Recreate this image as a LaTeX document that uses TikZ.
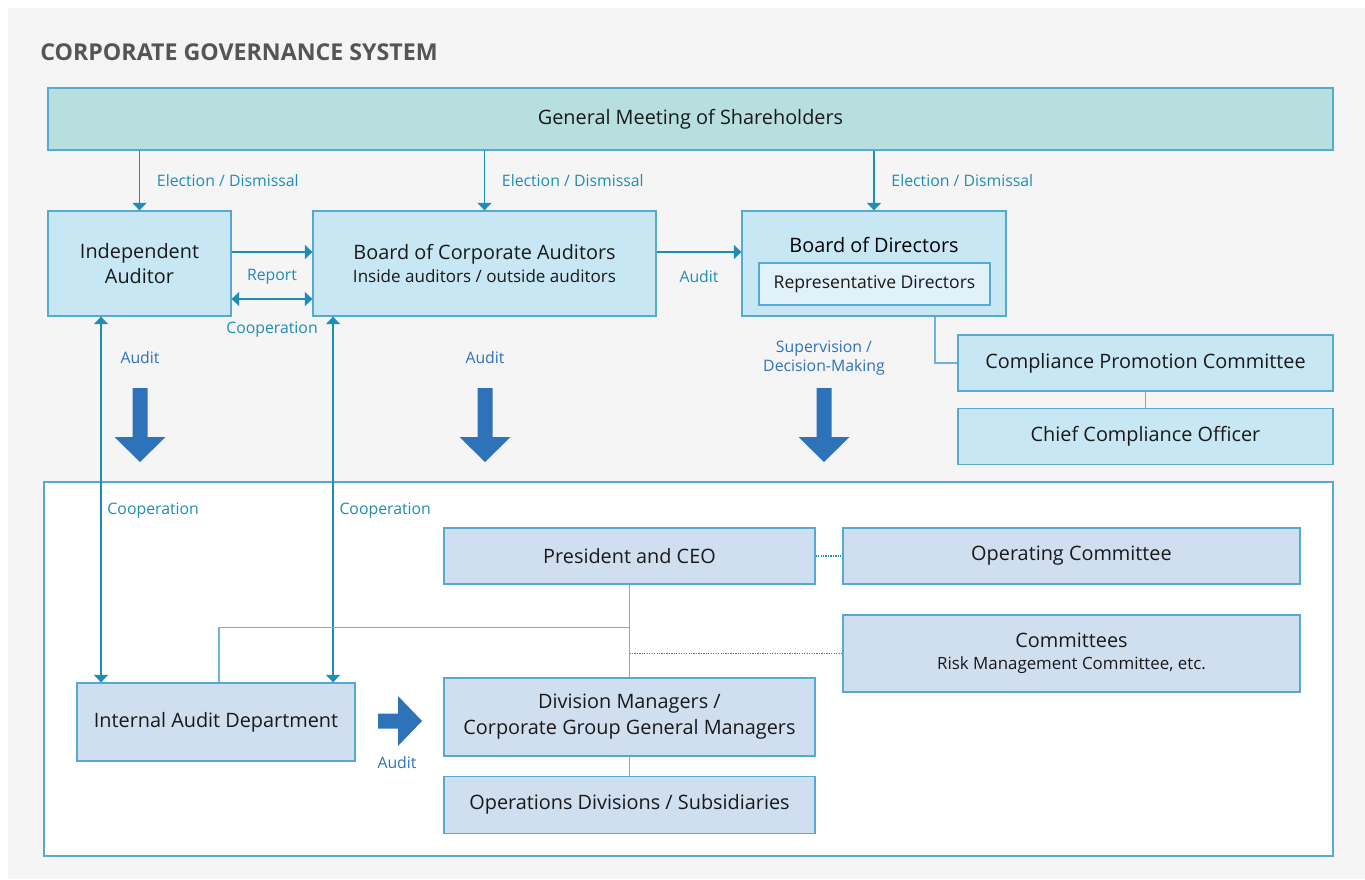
\documentclass[tikz,border=0pt]{standalone}
\usepackage{fontspec}
\setmainfont{Open Sans}
\usepackage{tikz}
\usetikzlibrary{arrows.meta, positioning}
\definecolor{PanelGrey}{HTML}{F5F5F5}
\definecolor{TitleGrey}{HTML}{555555}
\definecolor{EdgeBlue}{HTML}{56A9D1}
\definecolor{MeetingFill}{HTML}{B8DFDF}
\definecolor{BoardFill}{HTML}{C8E7F4}
\definecolor{RepFill}{HTML}{E0F1F9}
\definecolor{ExecFill}{HTML}{D0DFF0}
\definecolor{LinkTeal}{HTML}{1E8DB5}
\definecolor{TreeBlue}{HTML}{6DB5D6}
\definecolor{AuditBlue}{HTML}{2E72BA}

\begin{document}
\begin{tikzpicture}[
  x=0.02cm, y=-0.02cm,
  box/.style    = {draw=EdgeBlue, line width=0.75pt, inner sep=0pt, align=center,
                   font=\fontsize{11.3}{14.7}\selectfont, text=black!90},
  board/.style  = {box, fill=BoardFill, minimum height=2.1cm},
  exec/.style   = {box, fill=ExecFill},
  subline/.style= {font=\fontsize{9.7}{12}\selectfont},
  link/.style   = {-{Triangle[width=0.28cm,length=0.15cm]}, LinkTeal, line width=0.7pt},
  duplex/.style = {{Triangle[width=0.28cm,length=0.15cm]}-{Triangle[width=0.28cm,length=0.15cm]},
                   LinkTeal, line width=0.7pt},
  tree/.style   = {TreeBlue, line width=0.75pt},
  loose/.style  = {LinkTeal, line width=0.75pt, dash pattern=on 0.7pt off 0.7pt},
  lbl/.style    = {font=\fontsize{9}{11}\selectfont, text=LinkTeal},
  blbl/.style   = {lbl, text=AuditBlue, align=center},
  bigarrow/.style = {fill=AuditBlue}
]

  % Canvas and panel
  \useasboundingbox (0,0) rectangle (1365,879);
  \fill[white] (0,0) rectangle (1365,879);
  \fill[PanelGrey] (8,8) rectangle (1365,879);

  \node[anchor=base west, inner sep=0pt, text=TitleGrey,
        font=\bfseries\fontsize{13.2}{16}\selectfont] (title) at (40,60)
        {CORPORATE GOVERNANCE SYSTEM};

  % Shareholders
  \node[box, fill=MeetingFill, minimum width=25.7cm, minimum height=1.24cm] (gms)
        at (690.5,119) {General Meeting of Shareholders};

  % Auditors and board
  \node[board, minimum width=3.66cm] (ia) at (139.5,263.5) {Independent\\Auditor};
  \node[board, minimum width=6.86cm] (bca) at (484.5,263.5)
        {Board of Corporate Auditors\\[-2pt]{\fontsize{9.7}{12}\selectfont Inside auditors / outside auditors}};
  \node[board, minimum width=5.28cm,
        label={[anchor=center, yshift=-0.7cm, font=\fontsize{11.3}{14}\selectfont]north:Board of Directors}] (bod)
        at (874,263.5) {};
  \node[box, fill=RepFill, minimum width=4.62cm, minimum height=0.84cm,
        font=\fontsize{10}{12}\selectfont] (rep) at (874.5,284) {Representative Directors};

  % Compliance
  \node[board, minimum width=7.5cm, minimum height=1.12cm] (cpc) at (1145.5,363)
        {Compliance Promotion Committee};
  \node[board, minimum width=7.5cm, minimum height=1.12cm, below=0.32cm of cpc] (cco)
        {Chief Compliance Officer};

  % Execution side
  \node[draw=EdgeBlue, fill=white, line width=0.85pt, inner sep=0pt,
        minimum width=25.78cm, minimum height=7.48cm] (exe) at (688.5,669) {};

  \node[exec, minimum width=7.42cm, minimum height=1.12cm] (ceo) at (629.5,556) {President and CEO};
  \node[exec, minimum width=9.14cm, minimum height=1.12cm] (opc) at (1071.5,556) {Operating Committee};
  \node[exec, minimum width=9.14cm, minimum height=1.54cm] (cmt) at (1071.5,653.5)
        {Committees\\[-2pt]{\fontsize{9.6}{12}\selectfont Risk Management Committee, etc.}};
  \node[exec, minimum width=5.56cm, minimum height=1.56cm] (iad) at (216,722) {Internal Audit Department};
  \node[exec, minimum width=7.42cm, minimum height=1.56cm] (div) at (629.5,717)
        {Division Managers /\\Corporate Group General Managers};
  \node[exec, minimum width=7.42cm, minimum height=1.14cm, below=0.38cm of div] (ops)
        {Operations Divisions / Subsidiaries};

  % Election / Dismissal
  \foreach \n in {ia, bca, bod}
    \draw[link] (gms.south -| \n.north) -- node[lbl, right=0.22cm] {Election / Dismissal} (\n.north);

  % Report, cooperation and audit between the auditors and the board
  \draw[link] ([yshift=0.23cm]ia.east) -- node[lbl, yshift=-0.5cm] {Report} ([yshift=0.23cm]bca.west);
  \draw[duplex] ([yshift=-0.71cm]ia.east) -- node[lbl, yshift=-0.62cm] {Cooperation} ([yshift=-0.71cm]bca.west);
  \draw[link] ([yshift=0.23cm]bca.east) -- node[lbl, yshift=-0.5cm] {Audit} ([yshift=0.23cm]bod.west);

  % Compliance lines
  \draw[tree] ([xshift=1.22cm]bod.south) |- (cpc.west);
  \draw[tree] (cpc.south) -- (cco.north);

  % Cooperation with the internal audit department
  \draw[duplex] ([xshift=-0.77cm]ia.south) -- node[lbl, right, pos=0.53] {Cooperation}
        ([xshift=-0.77cm]ia.south |- iad.north);
  \draw[duplex] ([xshift=-3.03cm]bca.south) -- node[lbl, right, pos=0.53] {Cooperation}
        ([xshift=-3.03cm]bca.south |- iad.north);

  % Execution tree
  \draw[tree] (ceo.south) -- (div.north);
  \draw[tree] (ceo.south) ++(0,43) -| ([xshift=0.06cm]iad.north);
  \draw[tree] (div.south) -- (ops.north);
  \draw[loose] (ceo.east) -- (opc.west);
  \draw[loose] (ceo.south |- cmt.west) -- (cmt.west);

  % Audit and supervision arrows
  \foreach \x/\txt in {140/Audit, 485/Audit, 824/{Supervision /\\Decision-Making}} {
    \node[blbl] (ctl-\x) at (\x,358) {\txt};
    \fill[bigarrow] (\x-7.5,388) -- (\x+7.5,388) -- (\x+7.5,437) -- (\x+25.5,437)
          -- (\x,462) -- (\x-25.5,437) -- (\x-7.5,437) -- cycle;
  }
  \fill[bigarrow] (378,713.5) -- (398,713.5) -- (398,696) -- (422,721) -- (398,746)
        -- (398,728.5) -- (378,728.5) -- cycle;
  \node[blbl] (iad-audit) at (397,763) {Audit};

\end{tikzpicture}
\end{document}
